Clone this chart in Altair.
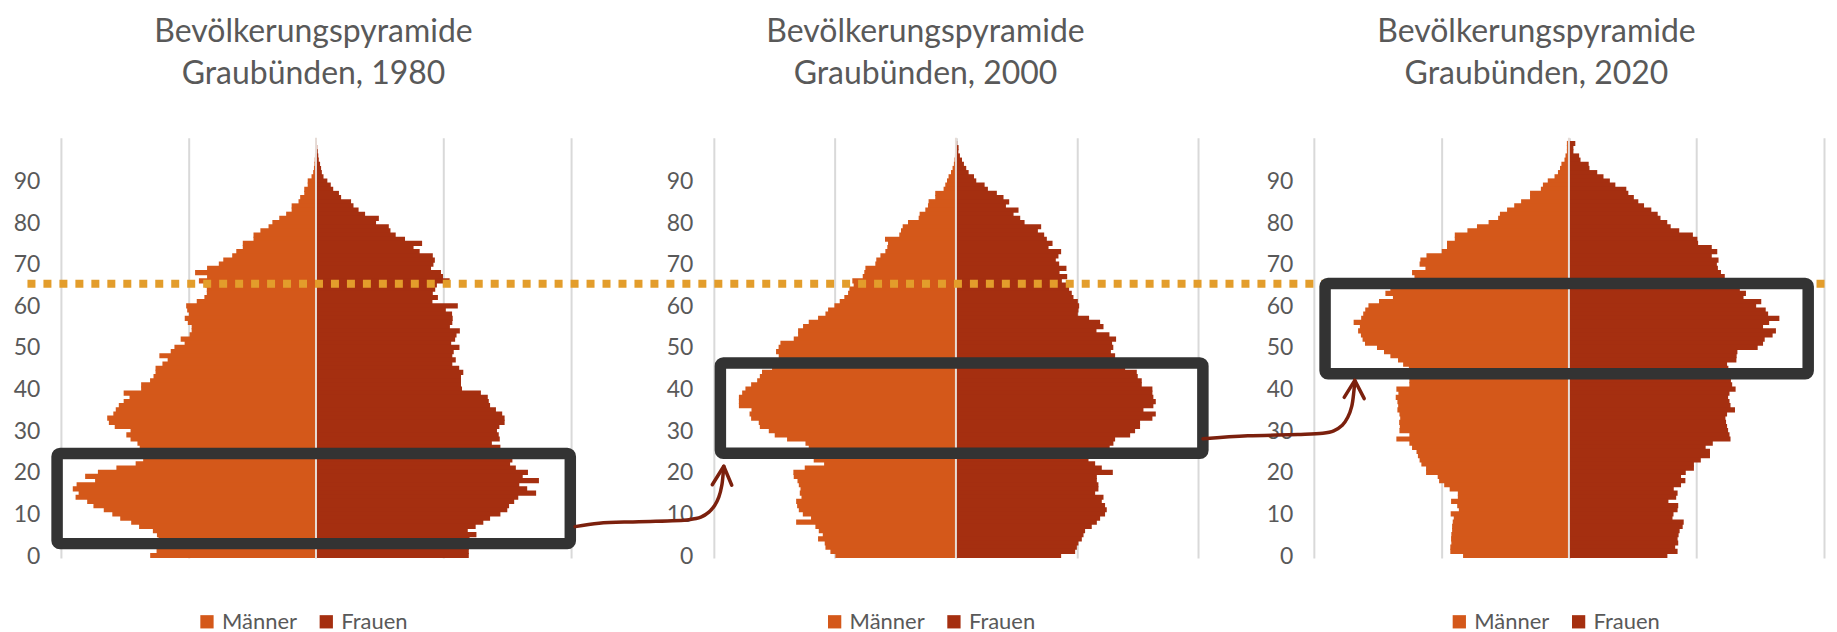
import altair as alt
import pandas as pd

# ---------------- data ----------------
ages = list(range(100))

maenner_1980 = [1300, 1250, 1245, 1240, 1235, 1247, 1279, 1387, 1449, 1535,
                1597, 1664, 1745, 1794, 1885, 1861, 1907, 1877, 1732, 1810,
                1710, 1565, 1414, 1355, 1380, 1400, 1382, 1400, 1454, 1487,
                1454, 1578, 1624, 1637, 1589, 1570, 1546, 1508, 1462, 1508,
                1371, 1371, 1301, 1274, 1258, 1258, 1204, 1163, 1228, 1139,
                1110, 1030, 1061, 991, 975, 975, 1005, 1029, 996, 1010,
                1018, 935, 875, 856, 856, 870, 918, 854, 948, 854,
                762, 727, 657, 625, 574, 574, 490, 490, 436, 372,
                342, 288, 234, 191, 191, 137, 124, 92, 92, 65,
                65, 35, 22, 16, 12, 10, 8, 6, 4, 3]
frauen_1980 = [1198, 1198, 1198, 1204, 1204, 1258, 1190, 1252, 1312, 1365,
               1446, 1500, 1514, 1554, 1586, 1726, 1656, 1594, 1748, 1621,
               1662, 1567, 1522, 1540, 1473, 1460, 1446, 1379, 1441, 1433,
               1419, 1438, 1479, 1479, 1460, 1411, 1365, 1355, 1347, 1293,
               1145, 1137, 1137, 1137, 1155, 1123, 1069, 1096, 1069, 1080,
               1125, 1060, 1091, 1102, 1128, 1050, 1069, 1072, 1067, 1018,
               1112, 913, 956, 916, 935, 948, 1048, 996, 980, 902,
               921, 932, 916, 813, 765, 832, 698, 625, 584, 571,
               471, 493, 385, 334, 294, 275, 197, 180, 135, 116,
               89, 59, 46, 40, 32, 22, 18, 14, 10, 6]

maenner_2000 = [996, 1037, 1078, 1084, 1139, 1100, 1133, 1161, 1320, 1197,
                1265, 1298, 1312, 1320, 1276, 1290, 1284, 1298, 1309, 1340,
                1343, 1249, 1089, 1175, 1260, 1230, 1216, 1243, 1395, 1497,
                1546, 1620, 1629, 1692, 1705, 1689, 1793, 1793, 1793, 1766,
                1739, 1692, 1642, 1620, 1602, 1519, 1480, 1450, 1464, 1486,
                1465, 1450, 1340, 1304, 1304, 1263, 1216, 1139, 1078, 1056,
                1004, 960, 922, 891, 880, 845, 856, 770, 757, 748,
                666, 658, 624, 583, 567, 561, 586, 468, 454, 440,
                396, 308, 300, 253, 231, 226, 171, 171, 102, 88,
                74, 61, 41, 28, 17, 12, 8, 6, 4, 3]
frauen_2000 = [869, 985, 999, 1012, 1040, 1054, 1067, 1122, 1164, 1191,
               1232, 1246, 1232, 1205, 1219, 1150, 1177, 1177, 1164, 1164,
               1296, 1205, 1150, 1095, 1200, 1230, 1270, 1301, 1315, 1439,
               1480, 1521, 1521, 1623, 1651, 1549, 1631, 1651, 1631, 1623,
               1623, 1535, 1535, 1502, 1494, 1398, 1330, 1300, 1315, 1280,
               1300, 1290, 1323, 1268, 1161, 1219, 1191, 1100, 1007, 1012,
               1018, 1007, 971, 957, 935, 930, 875, 919, 856, 913,
               853, 825, 847, 869, 765, 798, 751, 729, 677, 704,
               567, 531, 476, 517, 413, 440, 393, 338, 264, 237,
               168, 149, 105, 85, 66, 50, 33, 20, 22, 10]

maenner_2020 = [830, 930, 930, 922, 924, 922, 916, 916, 911, 903,
                927, 863, 876, 924, 871, 871, 935, 978, 1018, 1029,
                1120, 1120, 1157, 1171, 1184, 1195, 1230, 1251, 1353, 1251,
                1329, 1326, 1331, 1323, 1329, 1345, 1339, 1345, 1358, 1337,
                1353, 1251, 1251, 1250, 1250, 1255, 1300, 1340, 1400, 1450,
                1505, 1599, 1618, 1631, 1653, 1639, 1688, 1629, 1613, 1597,
                1572, 1489, 1380, 1439, 1400, 1320, 1211, 1211, 1230, 1125,
                1171, 1165, 1117, 997, 956, 956, 895, 895, 796, 721,
                630, 555, 541, 485, 429, 375, 305, 305, 220, 204,
                166, 113, 86, 70, 59, 35, 27, 16, 16, 16]
frauen_2020 = [772, 852, 833, 857, 852, 860, 868, 892, 900, 812,
               820, 852, 857, 780, 841, 852, 822, 879, 913, 879,
               916, 980, 980, 1034, 1106, 1106, 1072, 1128, 1267, 1259,
               1248, 1240, 1232, 1227, 1240, 1302, 1267, 1259, 1248, 1259,
               1307, 1280, 1270, 1270, 1260, 1250, 1240, 1313, 1315, 1321,
               1480, 1522, 1535, 1597, 1623, 1522, 1570, 1650, 1562, 1543,
               1468, 1508, 1369, 1388, 1340, 1300, 1232, 1222, 1192, 1168,
               1160, 1173, 1120, 1163, 1120, 1013, 1007, 972, 865, 798,
               771, 718, 696, 646, 589, 544, 509, 466, 450, 364,
               321, 271, 222, 161, 155, 91, 80, 35, 35, 50]

gruppen = ["Männer", "Frauen"]
titel_1 = "Bevölkerungspyramide"
titel_2 = ["Graubünden, 1980", "Graubünden, 2000", "Graubünden, 2020"]
y_ticks = list(range(0, 100, 10))
x_gitter = [-2000, -1000, 0, 1000, 2000]

# highlighted cohorts (x1, x2, y1, y2 in data units of each panel)
box_x1 = [-2030, -1946, -1912]
box_x2 = [1994, 2040, 1876]
box_y1 = [2.98, 24.7, 43.8]
box_y2 = [24.64, 46.4, 65.5]

# 65-year marker
rentenalter = 65.45

# arrows (data units of the target panel)
pfeil1_x = [-3146, -2948, -2619, -2206, -2107, -2041, -1992, -1959, -1934, -1922, -1918]
pfeil1_y = [7.06, 7.90, 8.26, 8.74, 9.34, 10.54, 12.22, 14.14, 17.01, 20.13, 21.57]
spitze1_x = [-2013, -1918, -1852]
spitze1_y = [17.13, 21.57, 17.01]
pfeil2_x = [-2869, -2517, -2125, -1930, -1844, -1777, -1734, -1703, -1687, -1679]
pfeil2_y = [28.17, 28.89, 29.18, 29.49, 30.09, 31.41, 33.33, 35.97, 39.33, 42.21]
spitze2_x = [-1762, -1679, -1605]
spitze2_y = [38.13, 42.21, 37.82]

# ---------------- styling ----------------
COL_M = "#D4581A"
COL_F = "#A52F10"
GOLD = "#E39D2B"
BOX = "#333333"
ARROW = "#7B200D"
TXT = "#595959"
FONT = "Lato"
H = 421

ysc = alt.Scale(domain=[-0.5, 100.5], nice=False, zero=False)


def arrow(xsc, px, py, sx, sy):
    d1 = pd.DataFrame({"x": px, "y": py, "i": list(range(len(px)))})
    d2 = pd.DataFrame({"x": sx, "y": sy, "i": list(range(len(sx)))})
    l1 = alt.Chart(d1).mark_line(color=ARROW, strokeWidth=3.5, interpolate="catmull-rom",
                                 strokeCap="round").encode(
        x=alt.X("x:Q", scale=xsc), y=alt.Y("y:Q", scale=ysc), order="i:Q")
    l2 = alt.Chart(d2).mark_line(color=ARROW, strokeWidth=3.5, strokeCap="round",
                                 strokeJoin="round").encode(
        x=alt.X("x:Q", scale=xsc), y=alt.Y("y:Q", scale=ysc), order="i:Q")
    return [l1, l2]


def dotted(xsc):
    return [alt.Chart(pd.DataFrame({"y": [rentenalter]})).mark_rule(
        color=GOLD, strokeWidth=8, strokeDash=[8, 8], strokeCap="butt"
    ).encode(x=alt.value(-1288.5), x2=alt.value(512), y=alt.Y("y:Q", scale=ysc))]


def panel(i, m, f, width, xdomain, title_dx, legend_x):
    xsc = alt.Scale(domain=xdomain, nice=False, zero=False)
    df = pd.DataFrame({
        "Alter": ages + ages,
        "Wert": [-v for v in m] + list(f),
        "Geschlecht": [gruppen[0]] * len(m) + [gruppen[1]] * len(f),
    })
    cscale = alt.Scale(domain=gruppen, range=[COL_M, COL_F])
    bars = alt.Chart(df).transform_calculate(
        y0="datum.Alter - 0.5", y1="datum.Alter + 0.75", x0="0"
    ).mark_rect().encode(
        x=alt.X("x0:Q", scale=xsc,
                axis=alt.Axis(values=x_gitter, grid=True, gridColor="#d9d9d9",
                              gridWidth=2, labels=False, ticks=False,
                              domain=False, title=None)),
        x2="Wert:Q",
        y=alt.Y("y0:Q", scale=ysc,
                axis=alt.Axis(values=y_ticks, grid=False, ticks=False, domain=False,
                              title=None, labelFont=FONT, labelFontSize=23,
                              labelColor=TXT, labelPadding=21,
                              labelBaseline="middle")),
        y2="y1:Q",
        order=alt.Order("Alter:Q", sort="descending"),
        color=alt.Color("Geschlecht:N", scale=cscale,
                        legend=alt.Legend(orient="none", legendX=legend_x,
                                          legendY=473.8, direction="horizontal",
                                          title=None, symbolType="square",
                                          symbolSize=177, symbolStrokeWidth=0,
                                          labelFont=FONT, labelFontSize=22,
                                          labelColor=TXT, labelOffset=4,
                                          columnPadding=17.5, padding=0)),
    )
    center = alt.Chart(pd.DataFrame({"x": [0]})).mark_rule(
        color="#e6dcd7", strokeWidth=2
    ).encode(x=alt.X("x:Q", scale=xsc), y=alt.value(0), y2=alt.value(H))

    box = alt.Chart(pd.DataFrame({
        "x1": [box_x1[i]], "x2": [box_x2[i]], "y1": [box_y1[i]], "y2": [box_y2[i]]
    })).mark_rect(fill="transparent", stroke=BOX, strokeWidth=11.5, cornerRadius=3).encode(
        x=alt.X("x1:Q", scale=xsc), x2="x2:Q",
        y=alt.Y("y1:Q", scale=ysc), y2="y2:Q")

    layers = [bars, center]
    if i == 2:
        layers += dotted(xsc)
    layers.append(box)
    if i == 1:
        layers += arrow(xsc, pfeil1_x, pfeil1_y, spitze1_x, spitze1_y)
    if i == 2:
        layers += arrow(xsc, pfeil2_x, pfeil2_y, spitze2_x, spitze2_y)
    if i == 0:
        # invisible anchor fixing the page origin (left and bottom extent only)
        layers.append(alt.Chart(pd.DataFrame({"a": [0]})).mark_rule(opacity=0).encode(
            x=alt.value(-53), x2=alt.value(-52), y=alt.value(0), y2=alt.value(490)))

    return alt.layer(*layers).properties(
        width=width, height=H,
        title=alt.TitleParams(text=[titel_1, titel_2[i]], font=FONT, fontSize=32,
                              fontWeight="normal", color=TXT, lineHeight=42,
                              anchor="middle", dx=title_dx, offset=46),
    )


p1 = panel(0, maenner_1980, frauen_1980, 538, [-2000, 2211.4], -16, 135.3)
p2 = panel(1, maenner_2000, frauen_2000, 485, [-2000, 2000], -30.5, 110)
p3 = panel(2, maenner_2020, frauen_2020, 511, [-2000, 2000], -32.5, 134.7)

chart = alt.hconcat(p1, p2, p3, spacing=116, bounds="flush").resolve_scale(
    color="independent"
).properties(
    padding={"left": 0, "top": 7.5, "right": 0, "bottom": 0}
).configure_view(strokeWidth=0)

chart.save("out.html", embed_options={"renderer": "svg", "actions": False})
